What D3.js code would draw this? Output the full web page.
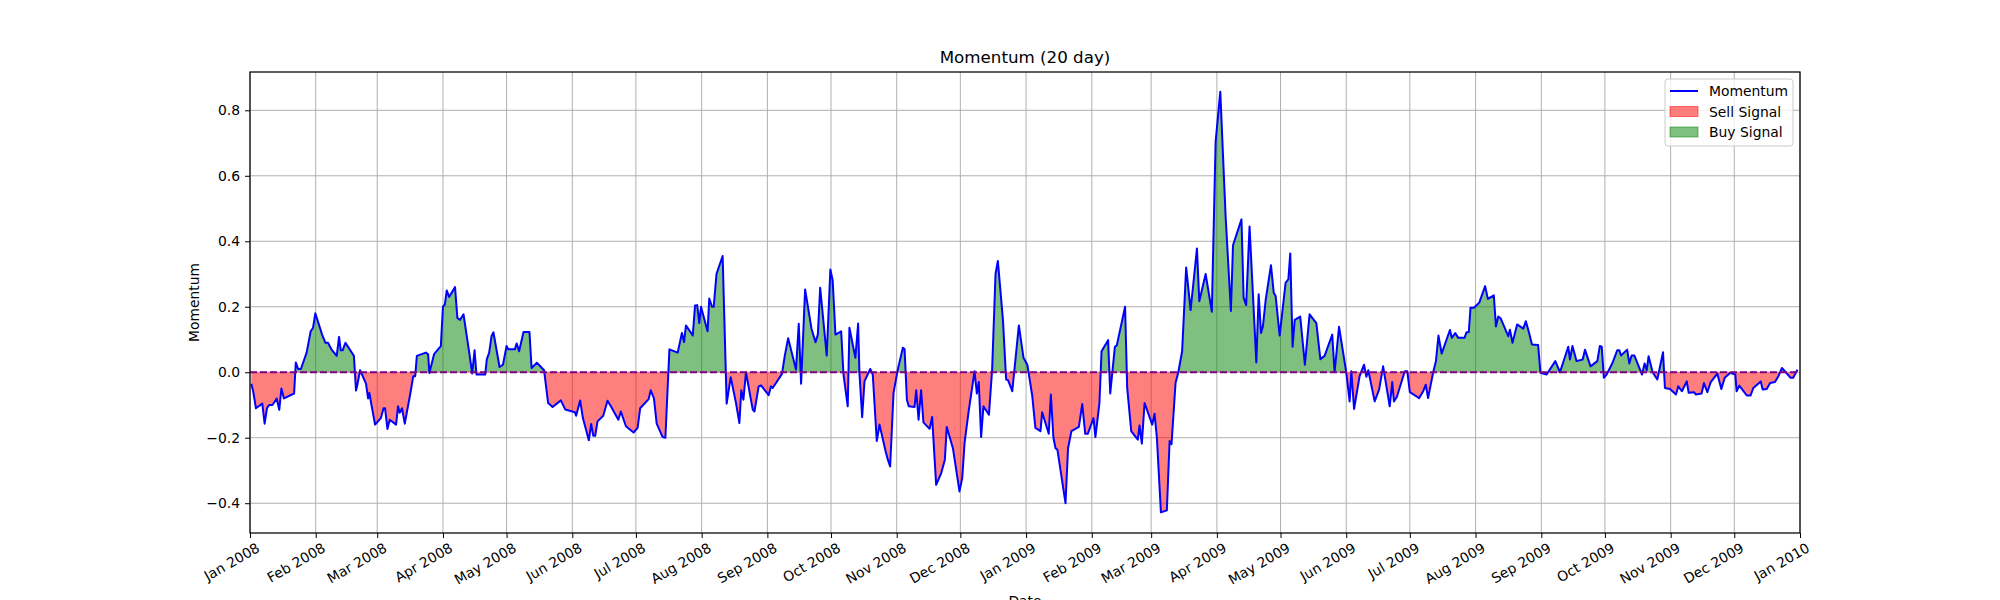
<!DOCTYPE html>
<html>
<head>
<meta charset="utf-8">
<script src="https://cdn.jsdelivr.net/npm/d3@7"></script>
<style>
  body { margin: 0; background: #fff; }
  text { font-family: "DejaVu Sans", sans-serif; }
</style>
</head>
<body>
<svg id="chart" width="2000" height="600"></svg>
<script>
// days since 2008-01-01 and momentum value
const dayOffset = [
  0.6,1.5,2.8,5.8,6.9,8,9,10.6,12.6,13.8,14.8,16,20.8,21.6,22.7,24,26.7,28.6,29.7,30.8,34,35.6,36.8,38.4,40.9,42,42.8,43.7,45,49,50,50.5,51.9,54.7,55.7,56.3,57.4,59,61.7,63,63.7,64.8,65.9,68.9,69.8,70.6,71.7,73,75.8,77,77.9,78.7,82.9,84,84.6,86.8,90,91,91.9,92.8,93.9,96.7,97.8,99.1,100.7,103.4,104.8,105.9,106.8,110.9,111.7,112.8,113.9,114.8,117.7,119.3,121,121.8,124.9,125.8,126.9,129,131.8,132.8,135.3,138.7,140.6,142.7,146.6,148.7,153.2,153.8,155.7,157,159.8,160.9,161.9,162.8,163.9,166.6,168.6,170.2,173.7,174.9,177.3,180.9,182.8,184,
  188,189,190.5,191.8,194.6,195.9,197.8,201.7,203.7,204.7,205.6,208.8,209.9,210.9,211.9,212.7,215.8,216.6,217.9,218.7,220,222.9,224.8,226.7,229.2,230.8,231.7,232.7,233.9,237.1,237.9,239.9,241,244.6,245.7,246.5,250.9,252.2,253.8,257.5,258.8,259.9,261.8,264.8,266.7,267.8,268.9,272,273.7,274.8,276.1,278.8,279.9,281.9,282.7,285.5,286.8,287.4,288.7,289.8,292.5,293.7,295.6,296.9,299.7,300.8,301.9,303.5,305.5,307.9,308.7,309.8,310.7,313.4,314.2,315.3,316.5,317.6,320.5,321.7,323.6,326,327.7,328.6,331.5,334.6,335.9,337,338.9,341.7,342.8,343.7,344.8,345.9,348.5,350,351.6,352.7,355.1,356.6,357.5,359.5,362.6,364.8,366.6,368.9,370.4,372.8,373.6,376.7,377.7,378.9,379.9,380.8,384.6,385.8,387.4,390.9,392.5,393.9,395.1,397.8,398.7,400.6,401.6,404.7,405.7,407.9,408.8,412.7,413.7,415.6,418.7,419.5,420.6,421.9,425.5,426.6,427.7,429.6,432.4,433.7,434.6,436.5,437.8,439.6,441.5,443.6,446.6,447.7,450.7,453.6,455.4,457.6,460.1,462.6,463.6,467.6,468.6,469.8,471.4,474.6,475.7,476.8,477.7,479,481.5,482.8,483.7,485.6,488.4,489.7,490.6,491.7,492.7,495.3,497.5,499.7,502.9,504.8,506.8,510.4,511.5,513.6,517,518.6,519.4,520.7,523.3,525.4,526.5,527.4,530.4,532.5,534.4,537.5,538.7,539.5,540.9,544.6,545.8,547,551.4,
  553.3,554.5,555.6,558,559.3,560.5,562,565.9,566.8,568.4,569.8,572.8,573.7,574.8,575.6,577.2,579.7,582.5,583.8,586.6,587.6,588.7,589.8,593.4,594.2,595.4,597.6,600.5,601.7,603,604.6,607.5,608.6,611.5,615.6,617.8,621.7,622.5,623.7,625.6,628.5,629.6,632.2,635.4,636.6,637.5,638.5,639.8,642.6,644.8,645.8,646.6,649.5,650.5,651.6,652.9,656.5,657.7,658.7,659.6,661.5,663.7,666.4,667.3,669.7,672.5,673.6,675.3,677.6,678.5,681,681.9,684.6,685.7,687.3,688.9,692,693.9,695.5,698,700.5,701.1,702.4,705.9,707.7,709,712.5,713.4,715.3,716.9,719.2,720.8,722.5,726.6,727.8,729.8
];
const momentum = [
  -0.035,-0.058,-0.11,-0.096,-0.157,-0.11,-0.10,-0.10,-0.08,-0.115,-0.05,-0.08,-0.065,0.03,0.01,0.01,0.06,0.125,0.135,0.18,0.115,0.09,0.09,0.07,0.05,0.108,0.067,0.067,0.09,0.05,-0.056,-0.043,0.006,-0.035,-0.08,-0.063,-0.104,-0.16,-0.14,-0.11,-0.11,-0.173,-0.145,-0.16,-0.104,-0.124,-0.11,-0.157,-0.058,-0.012,-0.012,0.05,0.06,0.055,-0.002,0.055,0.08,0.20,0.207,0.25,0.23,0.26,0.166,0.16,0.177,0.06,-0.004,0.067,-0.007,-0.007,0.04,0.06,0.11,0.122,0.016,0.023,0.08,0.07,0.07,0.088,0.064,0.123,0.123,0.013,0.029,0.006,-0.094,-0.106,-0.086,-0.114,-0.122,-0.133,-0.086,-0.14,-0.208,-0.158,-0.194,-0.194,-0.15,-0.133,-0.087,-0.104,-0.145,-0.12,-0.165,-0.184,-0.17,-0.11,
  -0.082,-0.055,-0.08,-0.157,-0.198,-0.20,0.07,0.06,0.12,0.092,0.143,0.112,0.204,0.205,0.15,0.20,0.125,0.225,0.20,0.20,0.30,0.355,-0.096,-0.015,-0.094,-0.155,-0.055,-0.084,0.0,-0.114,-0.12,-0.043,-0.04,-0.07,-0.043,-0.048,-0.005,0.05,0.104,0.008,0.148,-0.035,0.253,0.133,0.092,0.115,0.258,0.051,0.314,0.28,0.115,0.125,-0.007,-0.104,0.136,0.044,0.149,0.0,-0.137,-0.028,0.01,-0.007,-0.21,-0.16,-0.24,-0.267,-0.288,-0.063,0.008,0.075,0.071,-0.084,-0.104,-0.106,-0.055,-0.145,-0.055,-0.153,-0.173,-0.137,-0.344,-0.308,-0.267,-0.167,-0.232,-0.364,-0.323,-0.216,-0.12,0.003,-0.065,-0.03,-0.198,-0.104,-0.13,0.008,0.30,0.34,0.16,-0.022,-0.024,-0.058,0.143,0.044,0.023,-0.071,-0.17,-0.18,-0.122,-0.188,-0.068,-0.20,-0.232,-0.237,-0.40,-0.232,-0.18,-0.167,-0.097,-0.188,-0.188,-0.14,-0.198,-0.094,0.064,0.098,-0.065,0.078,0.082,0.20,-0.048,-0.18,-0.206,-0.163,-0.218,-0.094,-0.16,-0.127,-0.20,-0.428,-0.422,-0.21,-0.22,-0.033,0.0,0.064,0.32,0.19,0.378,0.217,0.30,0.185,0.704,0.857,0.478,0.187,0.388,0.467,0.228,0.205,0.445,0.03,0.238,0.12,0.14,0.22,0.327,0.243,0.233,0.112,0.273,0.284,0.363,0.078,0.16,0.17,0.023,0.177,0.15,0.04,0.05,0.115,0.0,0.139,0.0,-0.089,0.003,-0.112,-0.012,0.023,-0.014,0.006,-0.089,-0.053,0.018,-0.104,-0.03,-0.089,-0.075,0.003,0.003,-0.061,-0.079,
  -0.058,-0.038,-0.079,0.0,0.034,0.112,0.057,0.129,0.105,0.12,0.105,0.105,0.122,0.122,0.197,0.197,0.212,0.263,0.224,0.235,0.14,0.17,0.165,0.11,0.13,0.09,0.146,0.133,0.156,0.126,0.085,0.083,-0.002,-0.007,0.034,0.0,0.078,0.039,0.08,0.034,0.039,0.069,0.018,0.034,0.08,0.078,-0.017,-0.007,0.029,0.067,0.067,0.051,0.069,0.027,0.051,0.051,-0.007,0.027,0.006,0.049,0.0,-0.022,0.061,-0.048,-0.051,-0.068,-0.043,-0.058,-0.028,-0.063,-0.061,-0.068,-0.065,-0.033,-0.061,-0.03,-0.004,-0.051,-0.017,-0.002,-0.007,-0.058,-0.041,-0.071,-0.071,-0.048,-0.028,-0.053,-0.051,-0.033,-0.03,-0.012,0.013,-0.017,-0.017,0.008
];
const yTicks = [-0.4, -0.2, 0.0, 0.2, 0.4, 0.6, 0.8];
const legendLabels = ['Momentum', 'Sell Signal', 'Buy Signal'];

const start = new Date(2008, 0, 1);
const data = dayOffset.map((d, i) => ({
  date: new Date(start.getTime() + d * 86400000),
  value: momentum[i],
}));

const margin = { left: 250, right: 200, top: 72, bottom: 67 };
const width = 2000, height = 600;

const svg = d3.select('#chart');
const x = d3.scaleTime()
  .domain([new Date(2008, 0, 1), new Date(2010, 0, 1)])
  .range([margin.left, width - margin.right]);
const y = d3.scaleLinear()
  .domain([-0.491, 0.917])
  .range([height - margin.bottom, margin.top]);

const months = d3.timeMonth.range(new Date(2008, 0, 1), new Date(2010, 0, 2));

// grid
const grid = svg.append('g').attr('stroke', '#b0b0b0').attr('stroke-width', 1);
grid.selectAll('.vg').data(months).join('line')
  .attr('x1', d => x(d)).attr('x2', d => x(d))
  .attr('y1', margin.top).attr('y2', height - margin.bottom);
grid.selectAll('.hg').data(yTicks).join('line')
  .attr('x1', margin.left).attr('x2', width - margin.right)
  .attr('y1', d => y(d)).attr('y2', d => y(d));

// fills: area to zero, clipped above/below zero
const defs = svg.append('defs');
defs.append('clipPath').attr('id', 'clip-pos').append('rect')
  .attr('x', margin.left).attr('y', margin.top)
  .attr('width', width - margin.left - margin.right).attr('height', y(0) - margin.top);
defs.append('clipPath').attr('id', 'clip-neg').append('rect')
  .attr('x', margin.left).attr('y', y(0))
  .attr('width', width - margin.left - margin.right).attr('height', height - margin.bottom - y(0));

const area = d3.area().x(d => x(d.date)).y0(y(0)).y1(d => y(d.value));
svg.append('path').datum(data).attr('d', area)
  .attr('fill', 'green').attr('fill-opacity', 0.5).attr('clip-path', 'url(#clip-pos)');
svg.append('path').datum(data).attr('d', area)
  .attr('fill', 'red').attr('fill-opacity', 0.5).attr('clip-path', 'url(#clip-neg)');

// momentum line
const line = d3.line().x(d => x(d.date)).y(d => y(d.value));
svg.append('path').datum(data).attr('d', line)
  .attr('fill', 'none').attr('stroke', 'blue').attr('stroke-width', 2)
  .attr('stroke-linejoin', 'round');

// zero line
svg.append('line')
  .attr('x1', margin.left).attr('x2', width - margin.right)
  .attr('y1', y(0)).attr('y2', y(0))
  .attr('stroke', 'purple').attr('stroke-width', 2).attr('stroke-dasharray', '7,3');

// frame
svg.append('rect')
  .attr('x', margin.left).attr('y', margin.top)
  .attr('width', width - margin.left - margin.right)
  .attr('height', height - margin.top - margin.bottom)
  .attr('fill', 'none').attr('stroke', '#000').attr('stroke-width', 1.25);

// axes
const fmt = d3.timeFormat('%b %Y');
const xAxis = svg.append('g')
  .attr('transform', `translate(0,${height - margin.bottom})`)
  .call(d3.axisBottom(x).tickValues(months).tickFormat(fmt).tickSize(5).tickPadding(3));
xAxis.select('.domain').remove();
xAxis.selectAll('text')
  .attr('font-size', 13.9).attr('fill', '#000')
  .attr('text-anchor', 'end').attr('dy', '0.9em')
  .attr('transform', 'rotate(-30)');

const yAxis = svg.append('g')
  .attr('transform', `translate(${margin.left},0)`)
  .call(d3.axisLeft(y).tickValues(yTicks).tickFormat(d3.format('.1f')).tickSize(5).tickPadding(5));
yAxis.select('.domain').remove();
yAxis.selectAll('text').attr('font-size', 13.9).attr('fill', '#000')
  .text(d => d3.format('.1f')(d).replace('-', '\u2212'));

// labels
svg.append('text').attr('x', (margin.left + width - margin.right) / 2).attr('y', 63)
  .attr('text-anchor', 'middle').attr('font-size', 16.7).text('Momentum (20 day)');
svg.append('text').attr('transform', `translate(199,${(margin.top + height - margin.bottom) / 2}) rotate(-90)`)
  .attr('text-anchor', 'middle').attr('font-size', 13.9).text('Momentum');
svg.append('text').attr('x', (margin.left + width - margin.right) / 2).attr('y', 606)
  .attr('text-anchor', 'middle').attr('font-size', 13.9).text('Date');

// legend
const lg = svg.append('g').attr('transform', 'translate(1665,79)');
lg.append('rect').attr('width', 128).attr('height', 67).attr('rx', 3)
  .attr('fill', '#fff').attr('fill-opacity', 0.8).attr('stroke', '#ccc');
const items = lg.selectAll('g.item').data(legendLabels).join('g')
  .attr('transform', (d, i) => `translate(0,${12 + i * 20.5})`);
items.each(function (d, i) {
  const g = d3.select(this);
  if (i === 0) {
    g.append('line').attr('x1', 5).attr('x2', 33).attr('y1', 0).attr('y2', 0)
      .attr('stroke', 'blue').attr('stroke-width', 2);
  } else {
    g.append('rect').attr('x', 5).attr('y', -5).attr('width', 28).attr('height', 10)
      .attr('fill', i === 1 ? 'red' : 'green').attr('fill-opacity', 0.5)
      .attr('stroke', i === 1 ? 'red' : 'green').attr('stroke-opacity', 0.5);
  }
  g.append('text').attr('x', 44).attr('y', 5).attr('font-size', 13.9).text(d);
});
</script>
</body>
</html>
